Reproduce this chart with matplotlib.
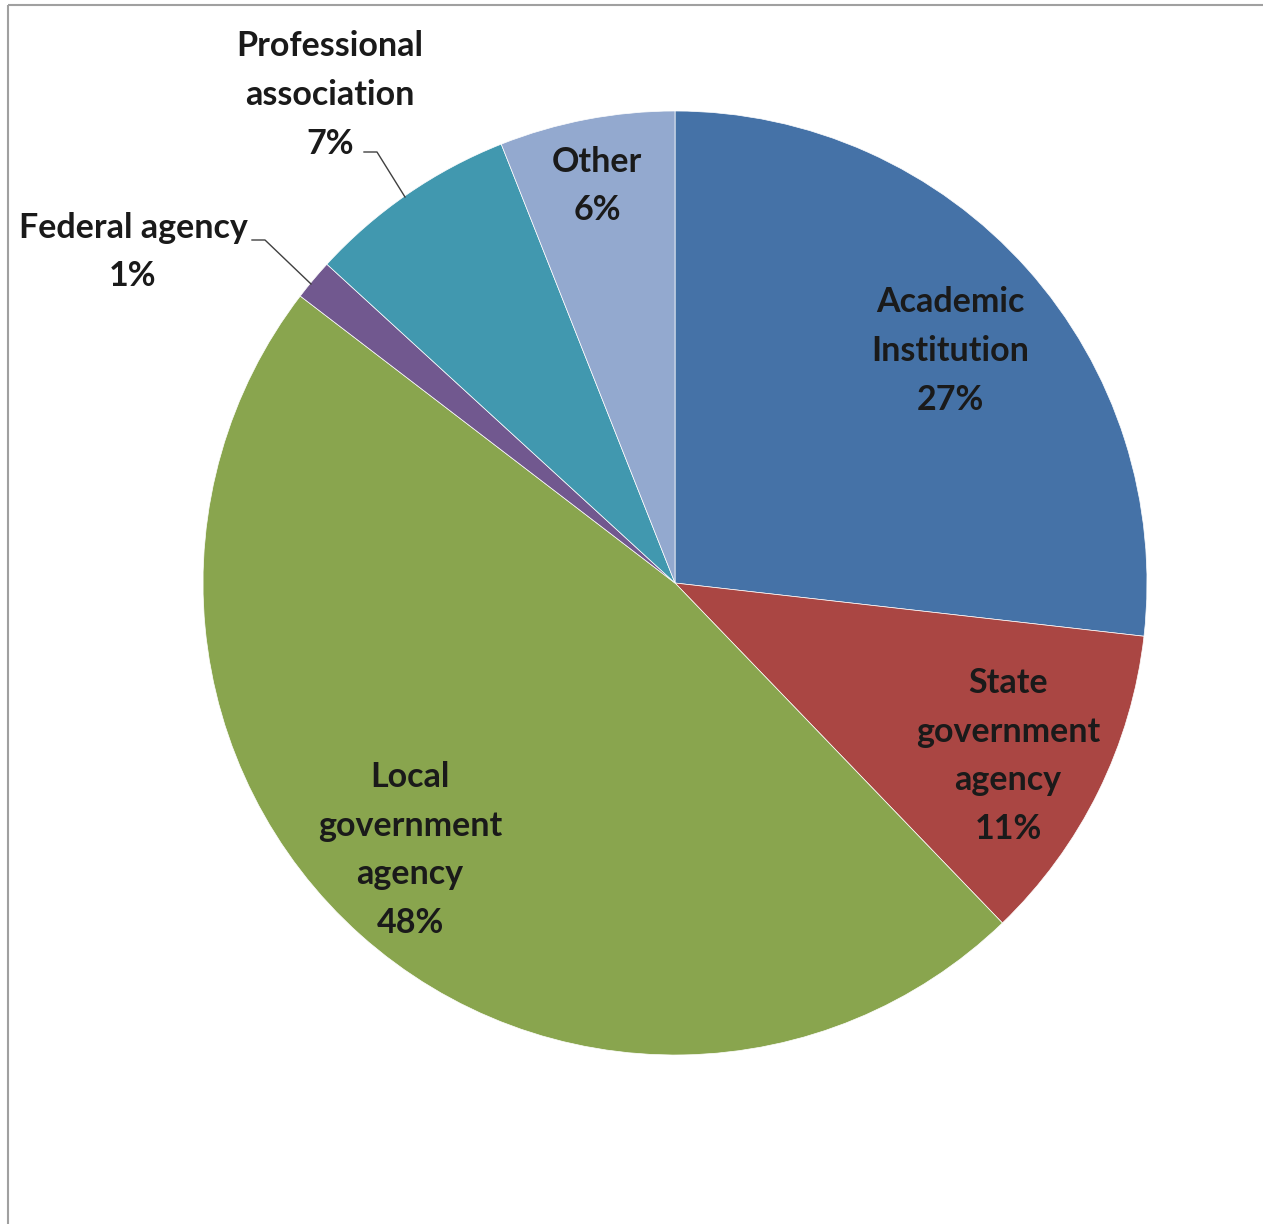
import matplotlib
matplotlib.use("Agg")
import matplotlib.pyplot as plt
from matplotlib.patches import Rectangle

categories = ["Academic\nInstitution", "State\ngovernment\nagency", "Local\ngovernment\nagency",
              "Federal agency", "Professional\nassociation", "Other"]
values = [26.8, 11.0, 47.6, 1.4, 7.2, 6.0]
colors = ["#4572A7", "#AA4643", "#89A54E", "#71588F", "#4198AF", "#93A9CF"]

W, H = 1263, 1224
fig = plt.figure(figsize=(W / 100, H / 100), dpi=100)
ax = fig.add_axes([0, 0, 1, 1])

cx, cy, r = 675, 583, 472
# pie in an inverted-y axis: counterclock=True draws clockwise visually
wedges, _ = ax.pie(values, colors=colors, startangle=-90, counterclock=True,
                   center=(cx, cy), radius=r, frame=True,
                   wedgeprops=dict(edgecolor="white", linewidth=0.5))
ax.set_xlim(0, W)
ax.set_ylim(H, 0)
ax.set_aspect("equal")
ax.axis("off")

# frame
ax.add_patch(Rectangle((8, 5), 1400, 1400, fill=False, edgecolor="#a0a0a0", lw=1.5))

pct = [f"{round(v)}%" for v in values]
label_pos = [(950, 351), (1008, 756), (410, 850), (133, 252), (330, 95), (597, 186)]
font = dict(family=["Lato", "DejaVu Sans"], fontsize=24.5, fontweight="bold", color="#1a1a1a",
            ha="center", va="center", linespacing=1.64)
for lab, p, (x, y) in zip(categories, pct, label_pos):
    ax.text(x, y, f"{lab}\n{p}", **font)

# leader lines
ax.plot([364, 377, 405], [152, 152, 197], color="#404040", lw=1)
ax.plot([252, 265, 311], [240, 240, 284], color="#404040", lw=1)

fig.savefig("out.png", dpi=100)
